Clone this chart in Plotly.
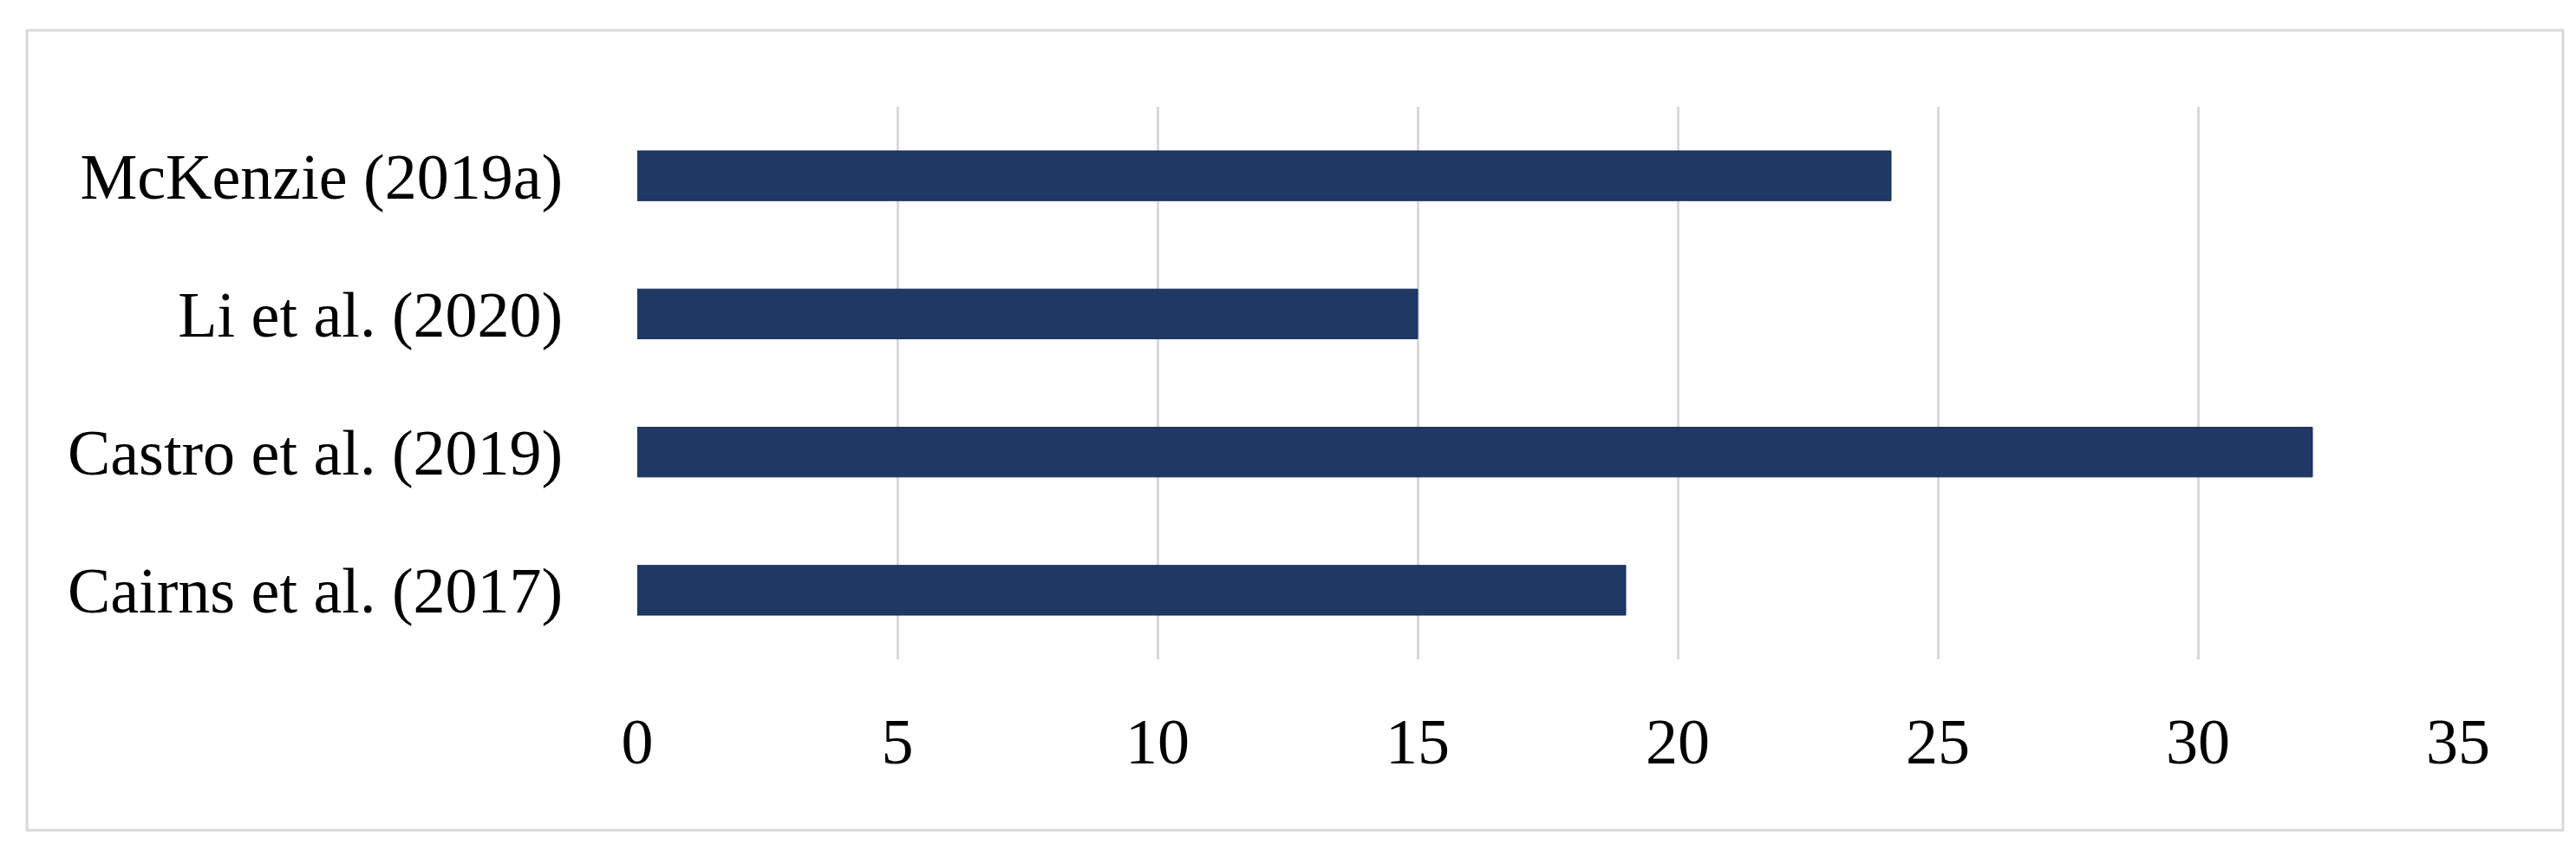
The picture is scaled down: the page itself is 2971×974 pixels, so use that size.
import plotly.graph_objects as go

# Data (top to bottom)
studies = ["McKenzie (2019a)", "Li et al. (2020)", "Castro et al. (2019)", "Cairns et al. (2017)"]
values = [24.1, 15.0, 32.2, 19.0]
x_ticks = [0, 5, 10, 15, 20, 25, 30, 35]

BAR_COLOR = "#203864"
GRID_COLOR = "#d9d9d9"

fig = go.Figure(
    go.Bar(
        x=values,
        y=studies,
        orientation="h",
        marker=dict(color=BAR_COLOR, line=dict(color="#172c5a", width=1)),
        width=0.36,
    )
)

fig.update_layout(
    width=2971,
    height=974,
    paper_bgcolor="white",
    plot_bgcolor="white",
    showlegend=False,
    font=dict(family="Liberation Serif", size=74, color="black"),
    margin=dict(l=727, r=144, t=115, b=222),
    # light grey frame around the whole chart
    shapes=[
        dict(
            type="rect",
            xref="paper", yref="paper",
            x0=-0.3352, x1=1.0576, y0=-0.3093, y1=1.1381,
            line=dict(color=GRID_COLOR, width=3),
            fillcolor="rgba(0,0,0,0)",
            layer="below",
        )
    ],
)

fig.update_xaxes(
    range=[0, 35],
    tickvals=x_ticks,
    ticktext=[str(t) for t in x_ticks],
    showgrid=True,
    gridcolor=GRID_COLOR,
    gridwidth=3,
    zeroline=False,
    showline=False,
    ticks="outside",
    ticklen=30,
    tickcolor="rgba(0,0,0,0)",
)

fig.update_yaxes(
    autorange="reversed",
    showgrid=False,
    zeroline=False,
    showline=False,
    ticks="outside",
    ticklen=70,
    tickcolor="rgba(0,0,0,0)",
)

fig.write_html("out.html")
